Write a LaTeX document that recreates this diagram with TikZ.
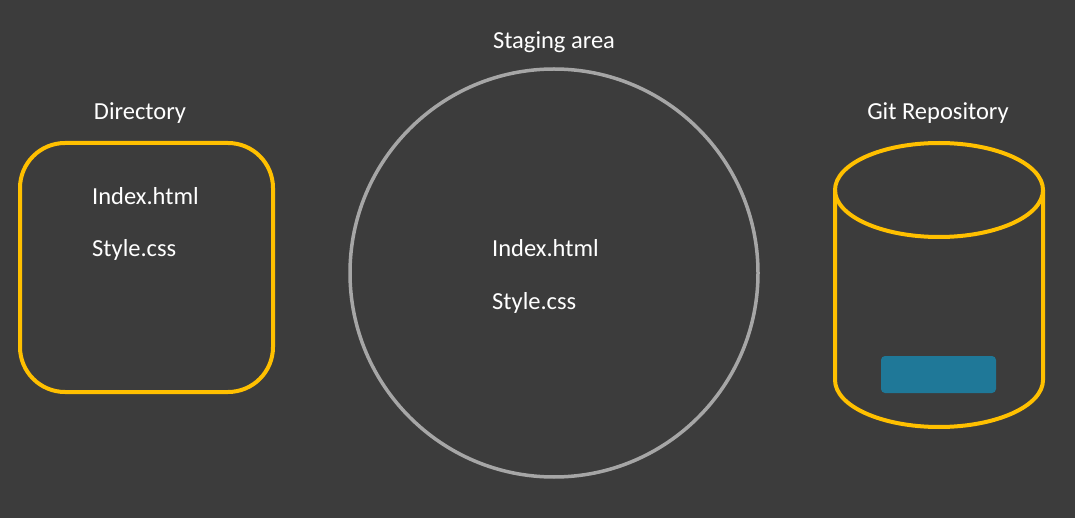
\documentclass[tikz,border=0pt]{standalone}
\usepackage{fontspec}
\setmainfont{Carlito}
\definecolor{bgdark}{HTML}{3C3C3C}
\definecolor{gitgold}{HTML}{FFC000}
\definecolor{stagegray}{HTML}{A6A6A6}
\definecolor{commitblue}{HTML}{1F7898}
\begin{document}
\begin{tikzpicture}[x=1pt,y=-1pt,font=\fontsize{24.5}{28}\selectfont,
  title/.style={text=white,anchor=base,inner sep=0pt},
  file/.style={text=white,anchor=base west,inner sep=0pt}]
\fill[bgdark] (0,0) rectangle (1075,518);
\useasboundingbox (0,0) rectangle (1075,518);
\draw[gitgold,line width=4pt,rounded corners=45pt] (20,143) rectangle (273,392);
\node[title] (dirtitle) at (140,120) {Directory};
\node[file] (dirindex) at (92,205) {Index.html};
\node[file] (dirstyle) at (92,257) {Style.css};
\draw[stagegray,line width=3.5pt] (554,273) circle[radius=204];
\node[title] (stagetitle) at (554,49) {Staging area};
\node[file] (stageindex) at (492,257) {Index.html};
\node[file] (stagestyle) at (492,309) {Style.css};
\draw[gitgold,line width=4pt] (835,190) -- (835,380)
  arc[start angle=180,end angle=0,x radius=104,y radius=47] -- (1043,190);
\draw[gitgold,line width=4pt] (939,190) ellipse[x radius=104,y radius=47];
\fill[commitblue,rounded corners=4pt] (881,356) rectangle (996,393);
\node[title] (repotitle) at (938,120) {Git Repository};
\end{tikzpicture}
\end{document}
